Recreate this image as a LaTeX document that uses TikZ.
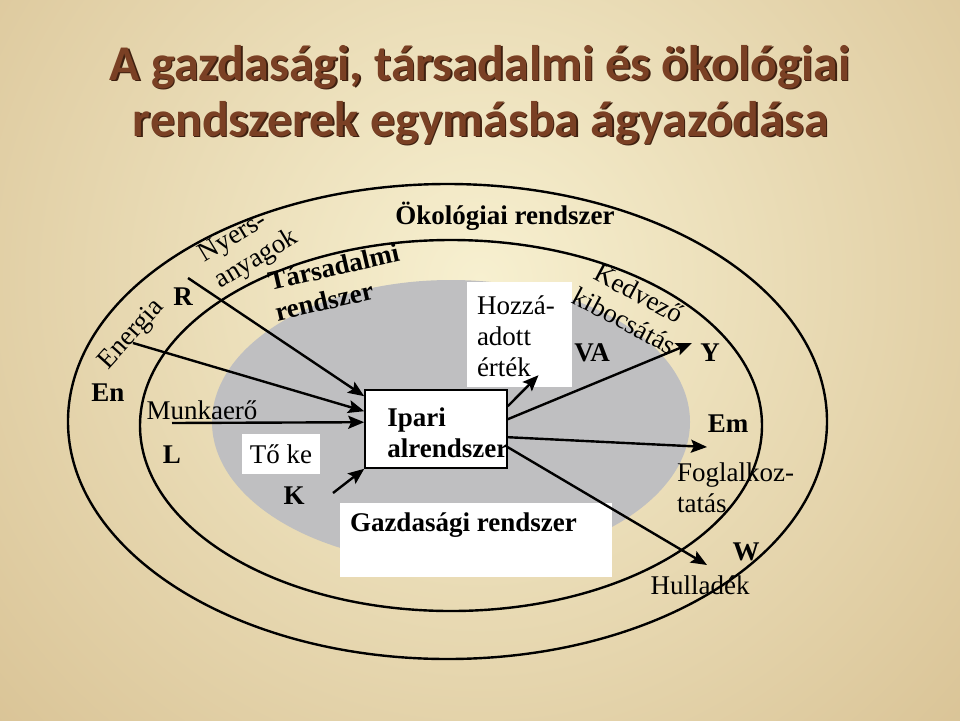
\documentclass[tikz,border=0pt]{standalone}
\usepackage{fontspec}
\setmainfont{Liberation Serif}
\newfontfamily\titlefont{Carlito}
\usepackage{tikz}
\usetikzlibrary{arrows.meta,positioning}
\definecolor{bglight}{RGB}{247,240,208}
\definecolor{bgdark}{RGB}{196,163,108}
\definecolor{ecogray}{RGB}{191,191,193}
\definecolor{ttlbrown}{RGB}{122,64,36}
\definecolor{ttlshade}{RGB}{62,32,16}
\tikzstyle{ttl} = [font=\titlefont\bfseries\fontsize{50}{58}\selectfont, anchor=base, inner sep=0pt]
\tikzstyle{rnd} = [font=\fontsize{27}{31}\selectfont, text=black, inner sep=0pt, align=left]
\tikzstyle{bld} = [font=\bfseries\fontsize{27}{31}\selectfont, text=black, inner sep=0pt, align=left]
\tikzstyle{wbox} = [rectangle, fill=white, inner sep=0pt]
\tikzstyle{ring} = [draw=black, line width=2.4pt]
\tikzstyle{flow} = [draw, line width=2.4pt, >={Stealth[length=16pt,width=13pt,inset=3pt]}, ->]

\begin{document}
\begin{tikzpicture}[x=1pt, y=-1pt]
\useasboundingbox (0,0) rectangle (960,720);

% background ===========================
\begin{scope}
\clip (0,0) rectangle (960,720);
\shade[inner color=bglight, outer color=bgdark] (480,280) circle (1150pt);
\end{scope}

% title
\node[ttl, text=ttlshade] (ttl1s) at (481.5,81.5) {A gazdasági, társadalmi és ökológiai};
\node[ttl, text=ttlbrown] (ttl1) at (480,80) {A gazdasági, társadalmi és ökológiai};
\node[ttl, text=ttlshade] (ttl2s) at (482.5,137.5) {rendszerek egymásba ágyazódása};
\node[ttl, text=ttlbrown] (ttl2) at (481,136) {rendszerek egymásba ágyazódása};

% systems ==============================
\fill[ecogray] (451,422) ellipse [x radius=239pt, y radius=142pt];
\path[ring] (451,425.5) ellipse [x radius=311pt, y radius=185.5pt];
\path[ring] (447.5,421.5) ellipse [x radius=379.5pt, y radius=237.5pt];

% boxes
\node[wbox, draw=black, line width=1.6pt, minimum width=142pt, minimum height=78pt] (ipari) at (436,429) {};
\node[bld, anchor=west] (iparitxt) at ([xshift=23pt,yshift=-4pt]ipari.west) {Ipari\\alrendszer};
\node[wbox, minimum width=105pt, minimum height=105pt] (hozza) at (519.5,334.5) {};
\node[rnd, anchor=west] (hozzatxt) at ([xshift=10pt,yshift=-1.5pt]hozza.west) {Hozzá-\\adott\\érték};
\node[wbox, minimum width=272pt, minimum height=74pt] (gazd) at (476,540) {};
\node[bld, anchor=west] (gazdtxt) at ([xshift=10pt,yshift=15pt]gazd.west) {Gazdasági rendszer};
\node[wbox, rnd, minimum width=78pt, minimum height=40pt, align=center] (toke) at (281,454) {Tő ke};

% labels
\node[bld] (eko) at (505,216) {Ökológiai rendszer};
\node[bld, rotate=13] (tars) at (337,282) {Társadalmi\\rendszer};
\node[rnd, rotate=31] (nyers) at (249,247) {Nyers-\\anyagok};
\node[rnd, rotate=48] (energia) at (132,335) {Energia};
\node[bld] (rlbl) at (183,297) {R};
\node[bld] (enlbl) at (108,393) {En};
\node[rnd] (munka) at (202,410) {Munkaerő};
\node[bld] (llbl) at (172,455) {L};
\node[bld] (klbl) at (294,496) {K};
\node[rnd, rotate=-28, align=center] (kedv) at (632,307) {Kedvező\\kibocsátás};
\node[bld] (valbl) at (592,353) {VA};
\node[bld] (ylbl) at (710,353) {Y};
\node[bld] (emlbl) at (728,424) {Em};
\node[rnd, anchor=west] (fogl) at (677,488) {Foglalkoz-\\tatás};
\node[bld] (wlbl) at (746,552) {W};
\node[rnd] (hull) at (700,585) {Hulladék};

% free ends
\coordinate (rsrc) at (188,278);
\coordinate (ensrc) at (133,343);
\coordinate (lsrc) at (172,423);
\coordinate (ksrc) at (333,493);
\coordinate (yend) at (692,343);
\coordinate (emend) at (707,447);
\coordinate (wend) at (707,565);

% edges
\path[flow] (rsrc) -- ([yshift=-7pt]ipari.north west);
\path[flow] (ensrc) -- ([yshift=-22pt]ipari.north west);
\path[flow] (lsrc) -- ([yshift=-33pt]ipari.north west);
\path[flow] (ksrc) -- (ipari.south west);

\path[flow] ([yshift=-17pt]ipari.north east) -- ([xshift=19pt,yshift=12pt]hozza.south);
\path[flow] ([yshift=-30pt]ipari.north east) -- (yend);
\path[flow] ([yshift=-48pt]ipari.north east) -- (emend);
\path[flow] ([yshift=-58pt]ipari.north east) -- (wend);

\end{tikzpicture}
\end{document}
